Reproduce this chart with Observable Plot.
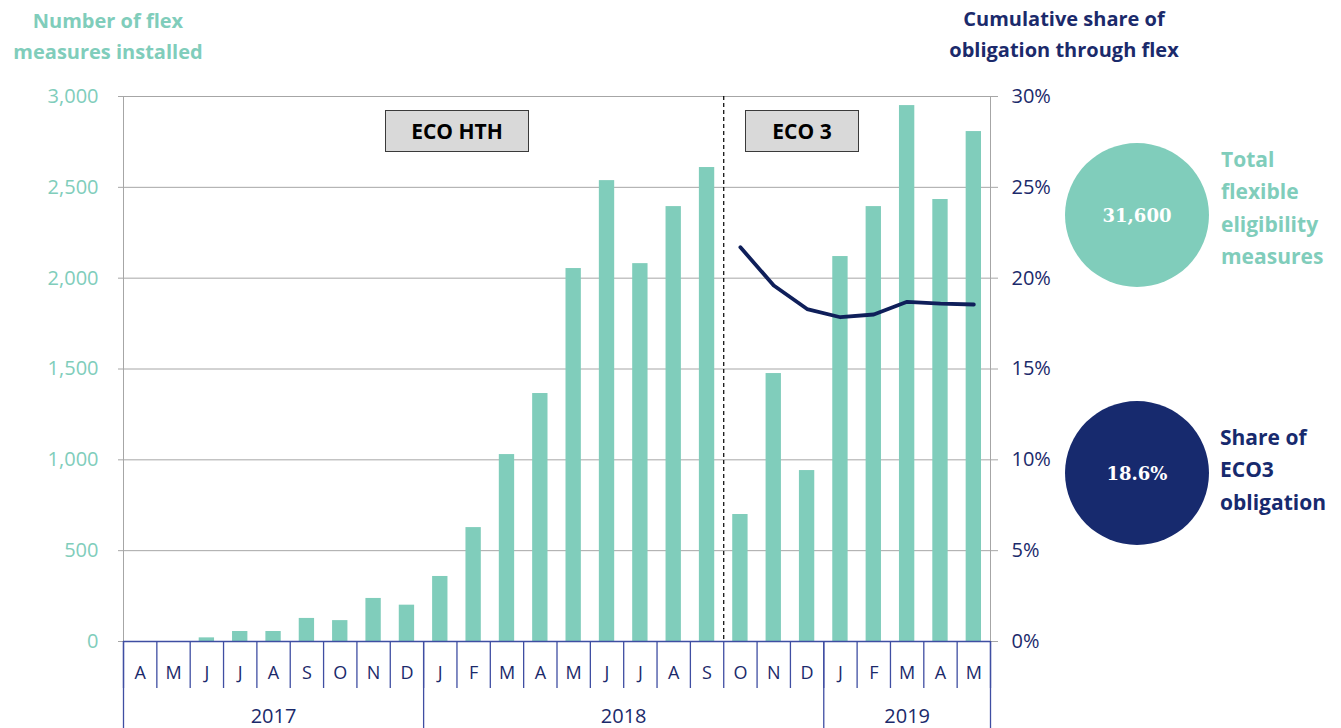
<!DOCTYPE html>
<html>
<head>
<meta charset="utf-8">
<script src="https://cdn.jsdelivr.net/npm/d3@7"></script>
<script src="https://cdn.jsdelivr.net/npm/@observablehq/plot@0.6"></script>
<style>
  html, body { margin: 0; padding: 0; background: #fff; }
  #wrap { position: relative; width: 1341px; height: 728px; overflow: hidden; font-family: "Open Sans", sans-serif; }
  #wrap svg { position: absolute; left: 0; top: 0; }
  .ov { position: absolute; }
  .title { font-weight: bold; font-size: 20px; line-height: 31px; text-align: center; }
  .box { box-sizing: border-box; background: #d9d9d9; border: 1.5px solid #3a3a3a; font-weight: bold; font-size: 21px; color: #000;
         display: flex; align-items: center; justify-content: center; }
  .circle { border-radius: 50%; display: flex; align-items: center; justify-content: center; color: #fff;
            font-family: "DejaVu Serif", serif; font-weight: bold; font-size: 18px; }
  .side { font-weight: bold; font-size: 21px; line-height: 32.3px; }
</style>
</head>
<body>
<div id="wrap"></div>
<script>
// ---- data ----
const months = ["A","M","J","J","A","S","O","N","D","J","F","M","A","M","J","J","A","S","O","N","D","J","F","M","A","M"];
const installs = [0,0,20,55,55,127,115,237,200,358,627,1029,1365,2053,2537,2080,2394,2609,699,1475,941,2119,2394,2950,2433,2807];
const shareMonthIndex = [18,19,20,21,22,23,24,25];
const sharePct = [21.7,19.6,18.3,17.85,18.0,18.7,18.6,18.55];
const years = ["2017","2018","2019"];
const yearStart = [0,9,21];
const yearEnd = [9,21,26];
const leftTicks = [0,500,1000,1500,2000,2500,3000];
const rightTickLabels = ["0%","5%","10%","15%","20%","25%","30%"];
const eco3StartIndex = 18;

const teal = "#80cdbb";
const navy = "#1b2a6b";
const lineNavy = "#0f1f5a";
const sepBlue = "#3f4ea2";
const gray = "#a6a6a6";

const bars = installs.map((v, i) => ({i, v}));
const line = shareMonthIndex.map((i, k) => ({i, p: sharePct[k]}));
const yearMid = years.map((y, k) => (yearStart[k] + yearEnd[k]) / 2);
const yearBounds = [...yearStart, yearEnd[yearEnd.length - 1]];

const chart = Plot.plot({
  width: 1341,
  height: 728,
  marginLeft: 123,
  marginRight: 351,
  marginTop: 96,
  marginBottom: 87,
  style: { fontFamily: "'Open Sans', sans-serif", background: "transparent", overflow: "visible" },
  x: { type: "linear", domain: [0, months.length], axis: null, label: null },
  y: { domain: [0, 3000], axis: null, label: null },
  marks: [
    Plot.gridY(leftTicks.slice(1), { stroke: gray, strokeOpacity: 1, strokeWidth: 1 }),
    Plot.ruleX([0, months.length], { stroke: gray, strokeWidth: 1 }),
    Plot.rectY(bars, { x1: "i", x2: d => d.i + 1, y: "v", fill: teal, insetLeft: 9, insetRight: 9 }),
    Plot.ruleX([eco3StartIndex], { stroke: "#000", strokeDasharray: "4,3", strokeWidth: 1.2 }),
    Plot.lineY(line, { x: d => d.i + 0.5, y: d => d.p * 100, stroke: lineNavy, strokeWidth: 3.8, strokeLinejoin: "round", strokeLinecap: "round" }),
    // left axis
    Plot.axisY(leftTicks, { anchor: "left", label: null, tickSize: 5, tickPadding: 20, stroke: gray, fill: teal, fontSize: 20, tickFormat: d3.format(",") }),
    // right axis
    Plot.axisY(leftTicks, { anchor: "right", label: null, tickSize: 7, tickPadding: 14, stroke: gray, fill: navy, fontSize: 20, tickFormat: d => rightTickLabels[leftTicks.indexOf(d)] }),
    // baseline
    Plot.ruleY([0], { stroke: sepBlue, strokeWidth: 1.3 }),
    // month separators
    Plot.axisX(d3.range(months.length + 1), { anchor: "bottom", label: null, tickSize: 47, stroke: sepBlue, strokeWidth: 1.3, tickFormat: () => "" }),
    // year separators
    Plot.axisX(yearBounds, { anchor: "bottom", label: null, tickSize: 87, stroke: sepBlue, strokeWidth: 1.3, tickFormat: () => "" }),
    // month labels
    Plot.axisX(months.map((m, i) => i + 0.5), { anchor: "bottom", label: null, tickSize: 0, tickPadding: 25, fill: navy, fontSize: 18, tickFormat: d => months[Math.floor(d)] }),
    // year labels
    Plot.axisX(yearMid, { anchor: "bottom", label: null, tickSize: 0, tickPadding: 67, fill: navy, fontSize: 20, tickFormat: d => years[yearMid.indexOf(d)] })
  ]
});

const wrap = document.getElementById("wrap");
wrap.appendChild(chart);

function addDiv(cls, css, html) {
  const d = document.createElement("div");
  d.className = "ov " + cls;
  Object.assign(d.style, css);
  d.innerHTML = html;
  wrap.appendChild(d);
}
addDiv("title", { left: "0px", top: "5px", width: "216px", color: teal }, "Number of flex<br>measures installed");
addDiv("title", { left: "944px", top: "3px", width: "240px", color: navy }, "Cumulative share of<br>obligation through flex");
addDiv("box", { left: "385px", top: "110px", width: "144px", height: "42px" }, "ECO HTH");
addDiv("box", { left: "745px", top: "110px", width: "114px", height: "42px" }, "ECO 3");
addDiv("circle", { left: "1065px", top: "143px", width: "144px", height: "144px", background: teal }, "31,600");
addDiv("circle", { left: "1065px", top: "401px", width: "144px", height: "144px", background: "#172a6e" }, "18.6%");
addDiv("side", { left: "1221px", top: "143px", color: teal }, "Total<br>flexible<br>eligibility<br>measures");
addDiv("side", { left: "1220px", top: "421px", color: "#172a6e" }, "Share of<br>ECO3<br>obligation");
</script>
</body>
</html>
